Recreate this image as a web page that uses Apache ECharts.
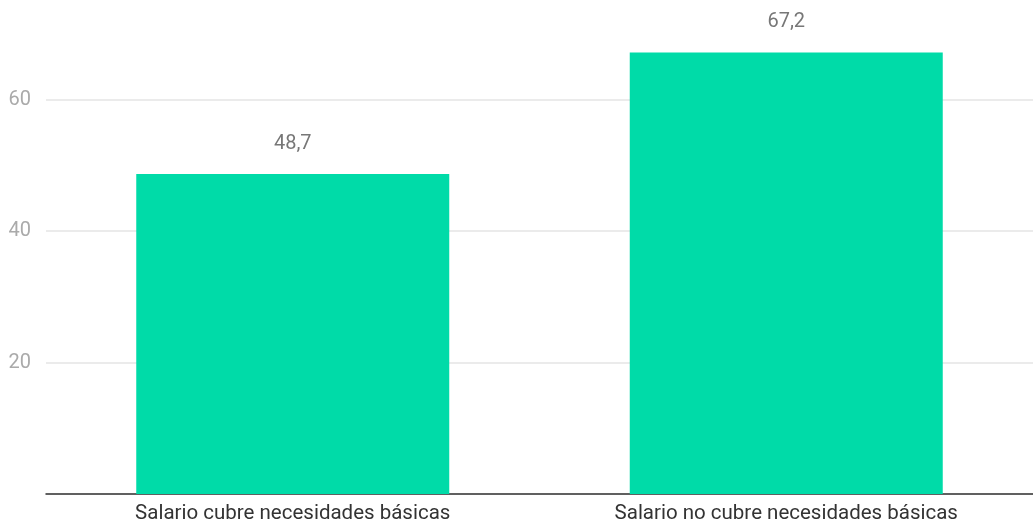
<!DOCTYPE html>
<html>
<head>
<meta charset="utf-8">
<script src="https://cdn.jsdelivr.net/npm/echarts@6/dist/echarts.min.js"></script>
<style>
  html, body { margin: 0; padding: 0; background: #fff; }
  #chart { width: 1033px; height: 524px; }
</style>
</head>
<body>
<div id="chart"></div>
<script>
  // datos
  var categorias = ['Salario cubre necesidades básicas', 'Salario no cubre necesidades básicas']
  var valores = [48.7, 67.2]
  var ticksY = [20, 40, 60]

  var chart = echarts.init(document.getElementById('chart'))
  chart.setOption({
    animation: false,
    textStyle: { fontFamily: 'Roboto' },
    grid: { left: 46, width: 1000, top: 34, height: 461, containLabel: false },
    xAxis: {
      type: 'category',
      data: categorias,
      axisLine: { show: true, lineStyle: { color: '#333', width: 1.5 } },
      axisTick: { show: false },
      axisLabel: { color: '#333', fontSize: 20.5, margin: 9 }
    },
    yAxis: {
      type: 'value',
      min: 0,
      max: 70,
      axisLine: { show: false },
      axisTick: { show: false, customValues: [0].concat(ticksY) },
      axisLabel: { color: '#aaa', fontSize: 20, margin: 15, customValues: ticksY },
      splitLine: { lineStyle: { color: '#e5e5e5', width: 1.5 } }
    },
    series: [{
      type: 'bar',
      data: valores,
      barWidth: 313,
      itemStyle: { color: '#00dba8' },
      label: {
        show: true,
        position: 'top',
        distance: 20,
        color: '#777',
        fontSize: 20,
        formatter: function (p) { return String(p.value).replace('.', ',') }
      }
    }]
  })
</script>
</body>
</html>
